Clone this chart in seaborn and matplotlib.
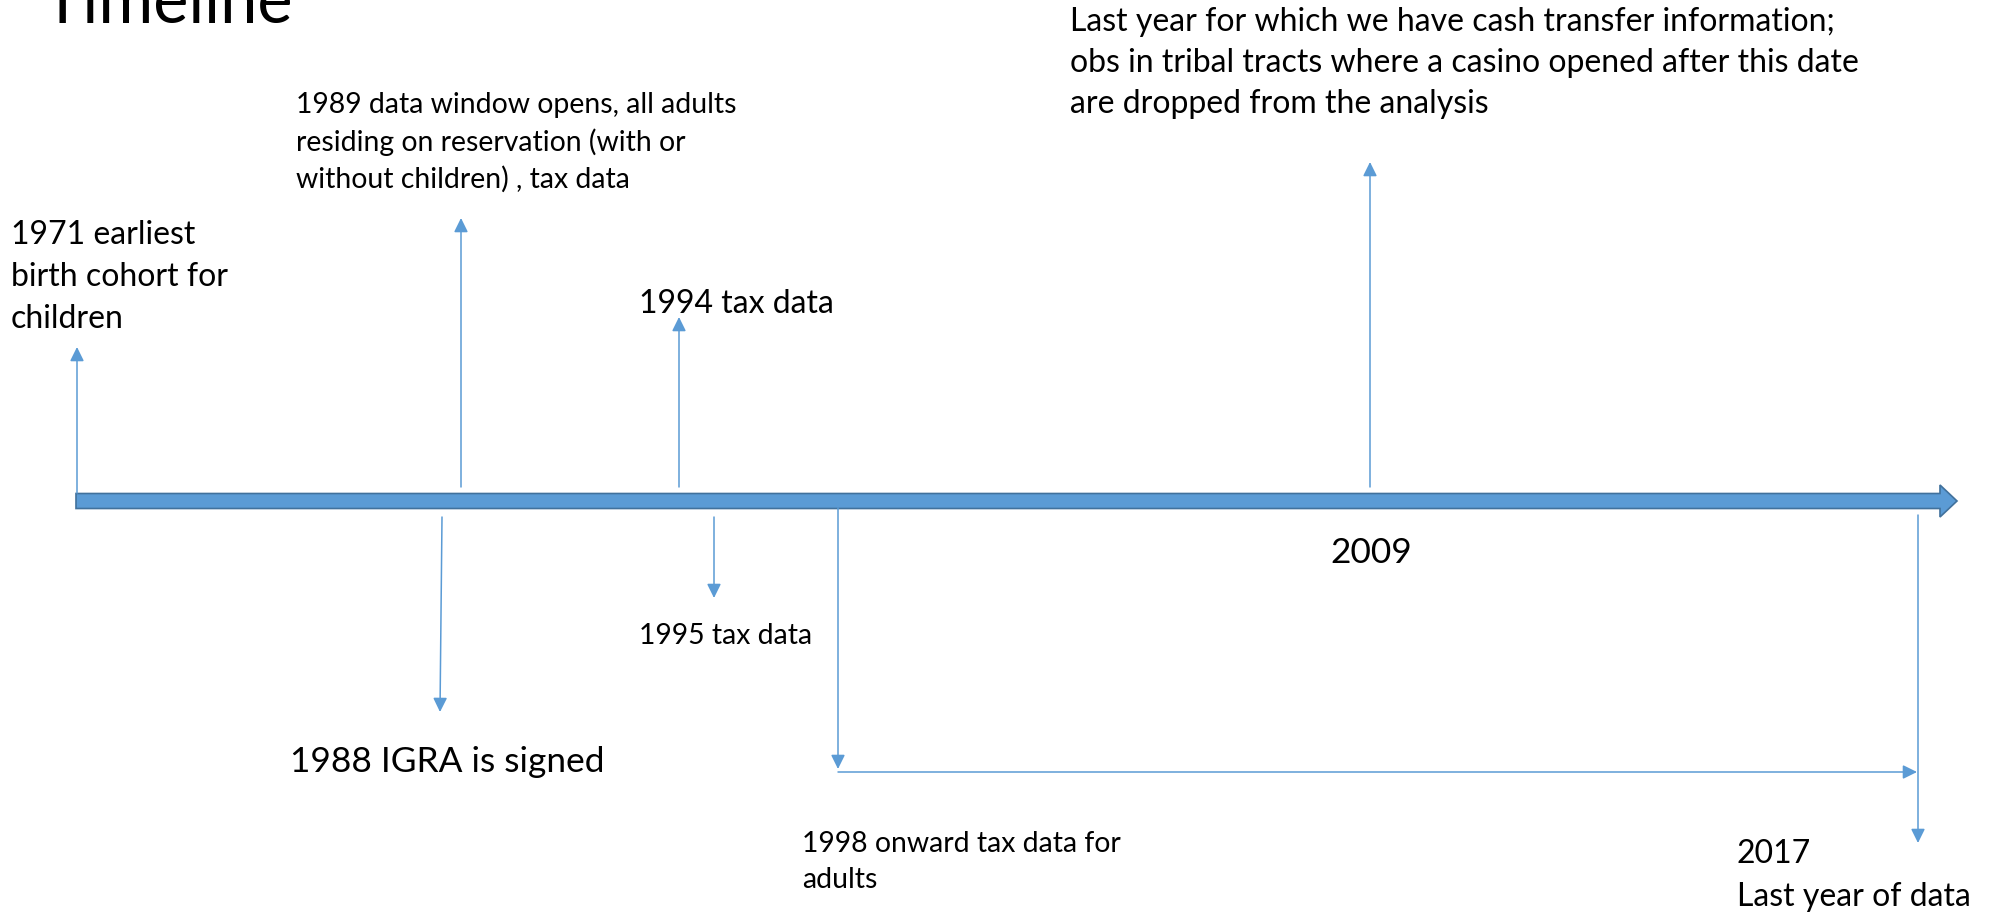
import matplotlib
matplotlib.use("Agg")
import matplotlib.pyplot as plt
import seaborn as sns
from matplotlib.patches import FancyArrow

# ---------------- data ----------------
title_text = "Timeline"

event_years = ["1971", "1988", "1989", "1994", "1995", "1998", "2009", "2017"]

label_1971 = ["1971 earliest", "birth cohort for", "children"]
label_1989 = ["1989 data window opens, all adults",
              "residing on reservation (with or",
              "without children) , tax data"]
label_1994 = ["1994 tax data"]
label_2009_note = ["Last year for which we have cash transfer information;",
                   "obs in tribal tracts where a casino opened after this date",
                   "are dropped from the analysis"]
label_2009 = ["2009"]
label_1995 = ["1995 tax data"]
label_1988 = ["1988 IGRA is signed"]
label_1998 = ["1998 onward tax data for", "adults"]
label_2017 = ["2017", "Last year of data"]

# ---------------- style / layout ----------------
W, H = 1992, 914
BLUE = "#5B9BD5"
BLUE_EDGE = "#41719C"
FONT = ["Lato", "DejaVu Sans"]

sns.set_theme(style="white")
plt.rcParams["font.family"] = FONT

fig = plt.figure(figsize=(W / 100, H / 100), dpi=100)
ax = fig.add_axes([0, 0, 1, 1])
ax.set_xlim(0, W)
ax.set_ylim(H, 0)
ax.set_axis_off()

renderer = fig.canvas.get_renderer()


def fit_size(text, target_px, weight="normal"):
    t = ax.text(0, 0, text, fontsize=10, fontweight=weight)
    w = t.get_window_extent(renderer=renderer).width
    t.remove()
    return 10.0 * target_px / w


size_title = fit_size(title_text, 250)
size_m = fit_size(label_1971[1], 218)
size_s = fit_size(label_1989[0], 439)
size_l = fit_size(label_1988[0], 313)


def block(lines, x, y0, size, spacing, weight="normal"):
    for i, line in enumerate(lines):
        ax.text(x, y0 + i * spacing, line, fontsize=size, ha="left",
                va="baseline", color="black", fontweight=weight)


# title (clipped at the top, as in the slide)
block([title_text], 43, 23, size_title, 0)

# main timeline arrow
ax.add_patch(FancyArrow(76, 501, 1957 - 76, 0, width=15, head_width=32,
                        head_length=17, length_includes_head=True,
                        facecolor=BLUE, edgecolor=BLUE_EDGE, linewidth=1.2))


def arrow(x0, y0, x1, y1):
    ax.annotate("", xy=(x1, y1), xytext=(x0, y0),
                arrowprops=dict(arrowstyle="-|>,head_length=0.85,head_width=0.42",
                                color=BLUE, lw=1.1, shrinkA=0, shrinkB=0,
                                mutation_scale=10))


# event arrows (start on the bar, end at the label)
arrow(77, 493, 77, 347)        # 1971
arrow(461, 487, 461, 218)      # 1989
arrow(679, 487, 679, 317)      # 1994
arrow(1370, 487, 1370, 162)    # 2009
arrow(442, 517, 440, 712)      # 1988
arrow(714, 517, 714, 598)      # 1995
arrow(838, 508, 838, 769)      # 1998
arrow(838, 772, 1917, 772)     # 1998 onward -> 2017
arrow(1918, 515, 1918, 843)    # 2017

# labels
block(label_1971, 11, 244, size_m, 42)
block(label_1989, 296, 113, size_s, 37.5)
block(label_1994, 639, 313, size_m, 0)
block(label_2009_note, 1070, 31, size_m, 41)
block(label_2009, 1330, 563, size_l, 0)
block(label_1995, 639, 644, size_s, 0)
block(label_1988, 290, 772, size_l, 0)
block(label_1998, 802, 852, size_s, 36)
block(label_2017, 1737, 863, size_m, 43)

fig.savefig("out.png", dpi=100, facecolor="white")
